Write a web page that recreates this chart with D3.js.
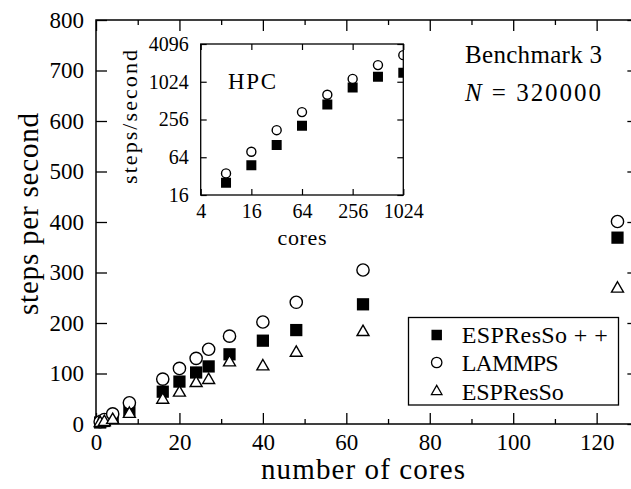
<!DOCTYPE html>
<html>
<head>
<meta charset="utf-8">
<script src="https://cdn.jsdelivr.net/npm/d3@7"></script>
<style>
  body { margin: 0; background: #fff; }
  svg { display: block; }
  text { font-family: "Liberation Serif", "Times New Roman", serif; fill: #000; }
</style>
</head>
<body>
<svg id="chart" width="631" height="489"></svg>
<script>
// ---------- data ----------
const cores = [1, 2, 4, 8, 16, 20, 24, 27, 32, 40, 48, 64, 125];
const espressoPP = [3, 6, 12, 28, 64, 84, 102, 114, 138, 165, 186, 237, 369];
const lammps = [4.5, 9, 20, 42, 89, 110, 130, 148, 174, 202, 241, 305, 401];
const espresso = [2, 4, 8, 20, 48, 62, 81, 87, 122, 114, 141, 182, 268];

const xTicks = [0, 20, 40, 60, 80, 100, 120];
const xMinorTicks = [10, 30, 50, 70, 90, 110, 130];
const yTicks = [0, 100, 200, 300, 400, 500, 600, 700, 800];

const hpcCores = [8, 16, 32, 64, 128, 256, 512, 1024];
const hpcEspressoPP = [25, 47.6, 100, 203, 445, 832, 1228, 1420];
const hpcLammps = [35.4, 78.3, 173, 336, 634, 1138, 1886, 2722];
const hpcXTicks = [4, 16, 64, 256, 1024];
const hpcYTicks = [16, 64, 256, 1024, 4096];

const legendNames = ["ESPResSo + +", "LAMMPS", "ESPResSo"];

// ---------- setup ----------
const svg = d3.select("#chart");
const W = 631, H = 489;
svg.append("rect").attr("width", W).attr("height", H).attr("fill", "#fff");

const x = d3.scaleLinear().domain([0, 130]).range([96, 96 + 130 * 4.172]);
const y = d3.scaleLinear().domain([0, 800]).range([424, 20]);

const tickFont = 23;

function styleAxis(g) {
  g.select(".domain").remove();
  g.selectAll(".tick line").attr("stroke", "#000").attr("stroke-width", 1.3);
  g.selectAll(".tick text").style("font-family", "Liberation Serif").style("font-size", tickFont + "px").attr("fill", "#000");
}

// main axes
svg.append("g").attr("transform", `translate(0,${y(0)})`)
  .call(d3.axisBottom(x).tickValues(xTicks).tickSize(-11).tickPadding(10).tickFormat(d3.format("d")))
  .call(styleAxis);
svg.append("g").attr("transform", `translate(0,${y(0)})`)
  .call(d3.axisBottom(x).tickValues(xMinorTicks).tickSize(-5).tickFormat(""))
  .call(styleAxis);
svg.append("g").attr("transform", `translate(0,${y(800)})`)
  .call(d3.axisTop(x).tickValues(xTicks).tickSize(-11).tickFormat(""))
  .call(styleAxis);
svg.append("g").attr("transform", `translate(0,${y(800)})`)
  .call(d3.axisTop(x).tickValues(xMinorTicks).tickSize(-5).tickFormat(""))
  .call(styleAxis);
svg.append("g").attr("transform", `translate(${x(0)},0)`)
  .call(d3.axisLeft(y).tickValues(yTicks).tickSize(-11).tickPadding(12).tickFormat(d3.format("d")))
  .call(styleAxis);
svg.append("g").attr("transform", `translate(${x(130)},0)`)
  .call(d3.axisRight(y).tickValues(yTicks).tickSize(-11).tickFormat(""))
  .call(styleAxis);

// frame
svg.append("rect")
  .attr("x", x(0)).attr("y", y(800))
  .attr("width", x(130) - x(0)).attr("height", y(0) - y(800))
  .attr("fill", "none").attr("stroke", "#000").attr("stroke-width", 1.5);

// axis labels
svg.append("text").attr("x", 363).attr("y", 479).attr("text-anchor", "middle")
  .attr("textLength", 204).attr("lengthAdjust", "spacing")
  .style("font-size", "29px").text("number of cores");
svg.append("text").attr("transform", "translate(38,214) rotate(-90)").attr("text-anchor", "middle")
  .attr("textLength", 202).attr("lengthAdjust", "spacing")
  .style("font-size", "29px").text("steps per second");

// annotation
svg.append("text").attr("x", 465).attr("y", 63).style("font-size", "25px")
  .attr("textLength", 137).attr("lengthAdjust", "spacing").text("Benchmark 3");
const nt = svg.append("text").attr("x", 465).attr("y", 101).style("font-size", "25px")
  .attr("textLength", 136).attr("lengthAdjust", "spacing");
nt.append("tspan").style("font-style", "italic").text("N");
nt.append("tspan").text(" = 320000");

// markers
const sq = d3.symbol().type(d3.symbolSquare);
const ci = d3.symbol().type(d3.symbolCircle);
const tr = d3.symbol().type(d3.symbolTriangle);

function drawSeries(g, xs, ys, sx, sy, gen, size, filled) {
  g.selectAll(null).data(xs.map((d, i) => [d, ys[i]])).enter().append("path")
    .attr("transform", d => `translate(${sx(d[0])},${sy(d[1])})`)
    .attr("d", gen.size(size)())
    .attr("fill", filled ? "#000" : "#fff")
    .attr("stroke", "#000").attr("stroke-width", filled ? 0 : 1.4);
}

const mainG = svg.append("g");
drawSeries(mainG, cores, espressoPP, x, y, sq, 150, true);
drawSeries(mainG, cores, lammps, x, y, ci, 118, false);
drawSeries(mainG, cores, espresso, x, y, tr, 62, false);

// legend
const lg = svg.append("g");
lg.append("rect").attr("x", 408.5).attr("y", 317.5).attr("width", 210).attr("height", 87.5)
  .attr("fill", "#fff").attr("stroke", "#000").attr("stroke-width", 1.3);
const legRows = [335, 362.5, 391.5];
const legLens = [146, 97, 102];
const legSyms = [[sq, 110, true], [ci, 85, false], [tr, 48, false]];
legendNames.forEach((name, i) => {
  const [gen, size, filled] = legSyms[i];
  lg.append("path").attr("transform", `translate(436.7,${legRows[i]})`)
    .attr("d", gen.size(size)())
    .attr("fill", filled ? "#000" : "#fff")
    .attr("stroke", "#000").attr("stroke-width", filled ? 0 : 1.3);
  lg.append("text").attr("x", 461.7).attr("y", legRows[i] + 8)
    .attr("textLength", legLens[i]).attr("lengthAdjust", "spacing")
    .style("font-size", "24px").text(name);
});

// ---------- inset ----------
const xi = d3.scaleLog().base(2).domain([4, 1024]).range([200.7, 403.3]);
const yi = d3.scaleLog().base(2).domain([16, 4096]).range([195, 44]);
const ins = svg.append("g");
ins.append("rect").attr("x", xi(4)).attr("y", yi(4096))
  .attr("width", xi(1024) - xi(4)).attr("height", yi(16) - yi(4096))
  .attr("fill", "#fff");

const insFont = 20;
function styleInset(g) {
  g.select(".domain").remove();
  g.selectAll(".tick line").attr("stroke", "#000").attr("stroke-width", 1.2);
  g.selectAll(".tick text").style("font-family", "Liberation Serif").style("font-size", insFont + "px").attr("fill", "#000");
}
ins.append("g").attr("transform", `translate(0,${yi(16)})`)
  .call(d3.axisBottom(xi).tickValues(hpcXTicks).tickSize(-6).tickPadding(9).tickFormat(d3.format("d")))
  .call(styleInset);
ins.append("g").attr("transform", `translate(0,${yi(4096)})`)
  .call(d3.axisTop(xi).tickValues(hpcXTicks).tickSize(-6).tickFormat(""))
  .call(styleInset);
ins.append("g").attr("transform", `translate(${xi(4)},0)`)
  .call(d3.axisLeft(yi).tickValues(hpcYTicks).tickSize(-6).tickPadding(12).tickFormat(d3.format("d")))
  .call(styleInset);
ins.append("g").attr("transform", `translate(${xi(1024)},0)`)
  .call(d3.axisRight(yi).tickValues(hpcYTicks).tickSize(-6).tickFormat(""))
  .call(styleInset);

svg.append("defs").append("clipPath").attr("id", "insClip")
  .append("rect").attr("x", xi(4)).attr("y", yi(4096))
  .attr("width", xi(1024) - xi(4)).attr("height", yi(16) - yi(4096));
const insPts = ins.append("g").attr("clip-path", "url(#insClip)");
drawSeries(insPts, hpcCores, hpcEspressoPP, xi, yi, sq, 100, true);
drawSeries(insPts, hpcCores, hpcLammps, xi, yi, ci, 64, false);

ins.append("rect").attr("x", xi(4)).attr("y", yi(4096))
  .attr("width", xi(1024) - xi(4)).attr("height", yi(16) - yi(4096))
  .attr("fill", "none").attr("stroke", "#000").attr("stroke-width", 1.3);

ins.append("text").attr("x", 228).attr("y", 89).style("font-size", "23px")
  .attr("textLength", 48).attr("lengthAdjust", "spacing").text("HPC");
ins.append("text").attr("x", 302).attr("y", 245).attr("text-anchor", "middle")
  .attr("textLength", 49).attr("lengthAdjust", "spacing")
  .style("font-size", "22px").text("cores");
ins.append("text").attr("transform", "translate(137,117) rotate(-90)").attr("text-anchor", "middle")
  .attr("textLength", 134).attr("lengthAdjust", "spacing")
  .style("font-size", "22px").text("steps/second");
</script>
</body>
</html>
